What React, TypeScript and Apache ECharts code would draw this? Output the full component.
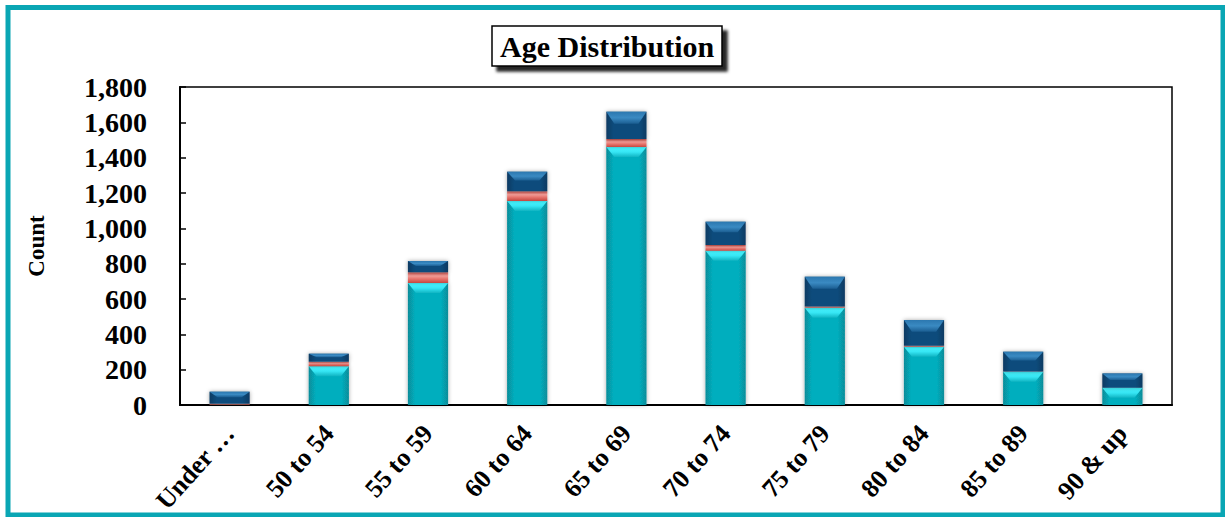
import React, { useEffect, useRef } from "react";
import * as echarts from "echarts";

// Age bands along the x axis
const categories = [
  "Under …",
  "50 to 54",
  "55 to 59",
  "60 to 64",
  "65 to 69",
  "70 to 74",
  "75 to 79",
  "80 to 84",
  "85 to 89",
  "90 & up",
];

// Stacked counts per age band, bottom to top
const baseCounts = [2, 220, 690, 1155, 1460, 873, 550, 330, 188, 97];
const middleCounts = [5, 25, 62, 55, 45, 32, 8, 5, 2, 1];
const topCounts = [68, 45, 63, 110, 155, 132, 168, 146, 112, 80];

// Y axis scale
const yMin = 0;
const yMax = 1800;
const yStep = 200;

const FONT = "'Liberation Serif', 'Times New Roman', serif";

type Layer = "teal" | "red" | "blue";

function hGrad(edge: string, mid: string) {
  return new echarts.graphic.LinearGradient(1, 0, 0, 0, [
    { offset: 0, color: edge },
    { offset: 0.18, color: mid },
    { offset: 0.82, color: mid },
    { offset: 1, color: edge },
  ]);
}

function makeRenderer(layer: Layer) {
  return (params: any, api: any) => {
    const cat = api.value(0);
    const lo = api.value(1);
    const hi = api.value(2);
    const p0 = api.coord([cat, lo]);
    const p1 = api.coord([cat, hi]);
    const band = api.size([1, 0])[0];
    const w = band * 0.405;
    const x = p0[0] - w / 2;
    const y = p1[1];
    const h = Math.max(p0[1] - p1[1], 0);
    const children: any[] = [];

    if (layer === "teal") {
      children.push({
        type: "rect",
        shape: { x, y, width: w, height: h },
        style: {
          fill: hGrad("#078C99", "#06AEBE"),
          shadowBlur: 4,
          shadowColor: "rgba(0,0,0,0.35)",
        },
      });
      const b = Math.min(10, h);
      if (b > 0) {
        children.push({
          type: "polygon",
          shape: {
            points: [
              [x, y],
              [x + w, y],
              [x + w - 8, y + b],
              [x + 8, y + b],
            ],
          },
          style: {
            fill: new echarts.graphic.LinearGradient(0, 0, 0, 1, [
              { offset: 0, color: "#48F4FF" },
              { offset: 0.5, color: "#36E6F4" },
              { offset: 1, color: "#10B4C2" },
            ]),
          },
        });
      }
    } else if (layer === "red") {
      children.push({
        type: "rect",
        shape: { x, y, width: w, height: h },
        style: {
          fill: new echarts.graphic.LinearGradient(0, 0, 0, 1, [
            { offset: 0, color: "#C9504B" },
            { offset: 0.35, color: "#F29C96" },
            { offset: 0.6, color: "#E8766F" },
            { offset: 1, color: "#C4473F" },
          ]),
          shadowBlur: 3,
          shadowColor: "rgba(0,0,0,0.3)",
        },
      });
    } else {
      children.push({
        type: "rect",
        shape: { x, y, width: w, height: h },
        style: {
          fill: hGrad("#0A3A62", "#0E4C7C"),
          shadowBlur: 4,
          shadowColor: "rgba(0,0,0,0.35)",
        },
      });
      const b = Math.min(12, h * 0.45);
      if (b > 0) {
        children.push({
          type: "polygon",
          shape: {
            points: [
              [x, y],
              [x + w, y],
              [x + w - 8, y + b],
              [x + 8, y + b],
            ],
          },
          style: {
            fill: new echarts.graphic.LinearGradient(0, 0, 0, 1, [
              { offset: 0, color: "#2C78B0" },
              { offset: 0.5, color: "#3A8AC2" },
              { offset: 1, color: "#1B5E92" },
            ]),
          },
        });
      }
    }
    return { type: "group", children };
  };
}

function stackData(lower: number[][], values: number[]) {
  return values.map((v, i) => {
    const base = lower.reduce((s, arr) => s + arr[i], 0);
    return [i, base, base + v];
  });
}

export default function App() {
  const ref = useRef<HTMLDivElement>(null);

  useEffect(() => {
    document.body.style.margin = "0";
    if (!ref.current) return;
    const chart = echarts.init(ref.current, undefined, { renderer: "svg" });

    const layers: { name: string; layer: Layer; data: number[][] }[] = [
      { name: "Base", layer: "teal", data: stackData([], baseCounts) },
      { name: "Middle", layer: "red", data: stackData([baseCounts], middleCounts) },
      { name: "Top", layer: "blue", data: stackData([baseCounts, middleCounts], topCounts) },
    ];

    chart.setOption({
      animation: false,
      backgroundColor: "#ffffff",
      title: {
        text: "Age Distribution",
        left: 492,
        top: 26,
        padding: [5, 8],
        backgroundColor: "#ffffff",
        borderColor: "#000000",
        borderWidth: 1.5,
        shadowColor: "rgba(0,0,0,0.85)",
        shadowBlur: 3,
        shadowOffsetX: 5,
        shadowOffsetY: 5,
        textStyle: {
          fontFamily: FONT,
          fontWeight: "bold",
          fontSize: 30,
          color: "#000",
        },
      },
      graphic: [
        {
          type: "rect",
          silent: true,
          shape: { x: 8, y: 7.5, width: 1215, height: 507.5 },
          style: { fill: "none", stroke: "#0AA6B4", lineWidth: 5 },
        },
      ],
      grid: {
        left: 180,
        right: 53,
        top: 87,
        bottom: 112,
        show: true,
        borderColor: "#000",
        borderWidth: 1.5,
        backgroundColor: "transparent",
      },
      xAxis: {
        type: "category",
        data: categories,
        axisLine: { lineStyle: { color: "#000", width: 2 } },
        axisTick: { show: false },
        axisLabel: {
          interval: 0,
          rotate: 48,
          align: "right",
          verticalAlign: "middle",
          margin: 24,
          fontFamily: FONT,
          fontWeight: "bold",
          fontSize: 26,
          color: "#000",
        },
      },
      yAxis: {
        type: "value",
        min: yMin,
        max: yMax,
        interval: yStep,
        name: "Count",
        nameLocation: "middle",
        nameGap: 132,
        nameRotate: 90,
        nameTextStyle: {
          fontFamily: FONT,
          fontWeight: "bold",
          fontSize: 23,
          color: "#000",
        },
        splitLine: { show: false },
        axisLine: { show: true, lineStyle: { color: "#000", width: 2 } },
        axisTick: {
          show: true,
          inside: true,
          length: 6,
          lineStyle: { color: "#000", width: 1.5 },
        },
        axisLabel: {
          margin: 33,
          fontFamily: FONT,
          fontWeight: "bold",
          fontSize: 28,
          color: "#000",
          formatter: (v: number) => v.toLocaleString("en-US"),
        },
      },
      series: layers.map((l) => ({
        type: "custom",
        name: l.name,
        renderItem: makeRenderer(l.layer),
        encode: { x: 0, y: [1, 2] },
        data: l.data,
      })),
    });

    return () => chart.dispose();
  }, []);

  return <div ref={ref} style={{ width: 1225, height: 517 }} />;
}
